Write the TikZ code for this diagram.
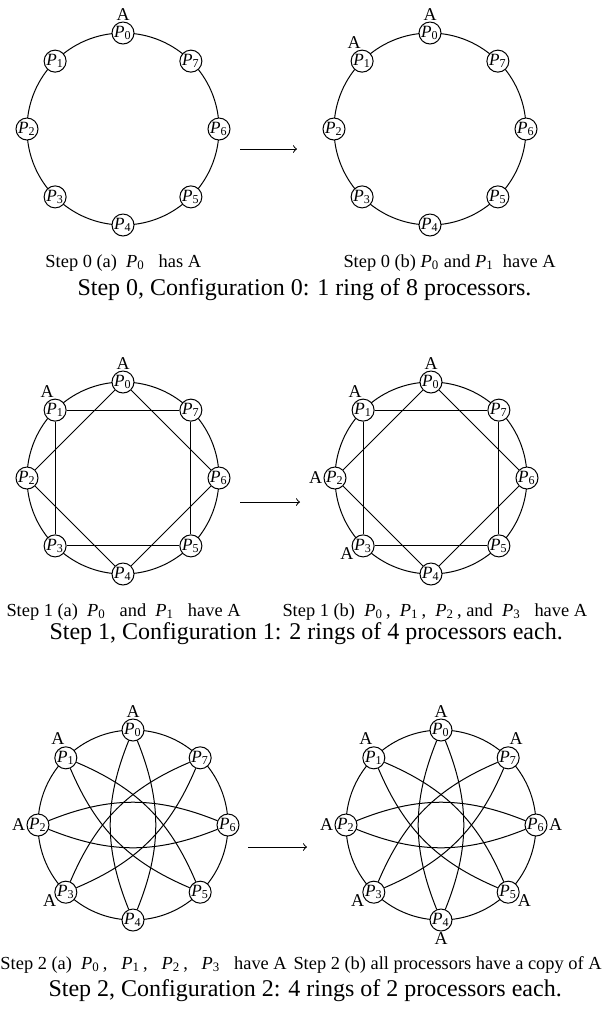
\documentclass[tikz,border=0pt]{standalone}
\usepackage{fontspec}
\setmainfont{Liberation Serif}
\usetikzlibrary{positioning}

\newcommand{\pp}[1]{\textit{P}\textsubscript{#1}}

\tikzset{
  proc/.style={draw, circle, fill=white, inner sep=-0.5pt, minimum size=11pt, font=\fontsize{8.6}{9}\selectfont},
  lbl/.style={inner sep=0.5pt, font=\fontsize{9}{10}\selectfont},
  subcap/.style={inner sep=0pt, anchor=west, font=\fontsize{9.2}{11}\selectfont},
  maincap/.style={inner sep=0pt, anchor=west, font=\fontsize{12}{14}\selectfont},
}

\begin{document}
\begin{tikzpicture}[x=0.5pt, y=-0.5pt, line width=0.5pt]
\useasboundingbox (0,0) rectangle (607,1009);

% six rings of eight processors
\foreach \grp/\cx/\cy/\r in {tl/123/129/96, tr/430/129/96, ml/123/478/96, mr/431/478/96, bl/133/825/95, br/441/825/95} {
  \begin{scope}[shift={(\cx,\cy)}]
    \draw (0,0) circle [radius=\r];
    \foreach \i in {0,...,7}
      \node[proc] (\grp\i) at ({270-45*\i}:\r) {\pp{\i}};
  \end{scope}
}

% configuration 1: two rings of four
\foreach \grp in {ml, mr}
  \foreach \a/\b in {1/7, 7/5, 5/3, 3/1, 0/6, 6/4, 4/2, 2/0}
    \draw (\grp\a) -- (\grp\b);

% configuration 2: four rings of two
\foreach \grp in {bl, br}
  \foreach \a/\b in {0/4, 1/5, 2/6, 3/7} {
    \draw (\grp\a) to[bend left=22] (\grp\b);
    \draw (\grp\a) to[bend right=22] (\grp\b);
  }

% arrows between steps
\coordinate (arr0s) at (240,149); \coordinate (arr0e) at (297,149);
\coordinate (arr1s) at (240,502); \coordinate (arr1e) at (300,502);
\coordinate (arr2s) at (248,847); \coordinate (arr2e) at (307,847);
\draw[->] (arr0s) -- (arr0e);
\draw[->] (arr1s) -- (arr1e);
\draw[->] (arr2s) -- (arr2e);

% copies of A
\node[lbl, above=0pt of tl0] (tlA0) {A};
\node[lbl, above=0pt of tr0] (trA0) {A};
\node[lbl, anchor=south east] (trA1) at (tr1.north) {A};
\node[lbl, above=0pt of ml0] (mlA0) {A};
\node[lbl, anchor=south east] (mlA1) at (ml1.north) {A};
\node[lbl, above=0pt of mr0] (mrA0) {A};
\node[lbl, anchor=south east] (mrA1) at (mr1.north) {A};
\node[lbl, left=0pt of mr2] (mrA2) {A};
\node[lbl, anchor=east] (mrA3) at (mr3.south west) {A};
\node[lbl, above=0pt of bl0] (blA0) {A};
\node[lbl, anchor=south east] (blA1) at (bl1.north) {A};
\node[lbl, left=0pt of bl2] (blA2) {A};
\node[lbl, anchor=east] (blA3) at (bl3.south west) {A};
\node[lbl, above=0pt of br0] (brA0) {A};
\node[lbl, anchor=south east] (brA1) at (br1.north) {A};
\node[lbl, left=0pt of br2] (brA2) {A};
\node[lbl, anchor=east] (brA3) at (br3.south west) {A};
\node[lbl, below=0pt of br4] (brA4) {A};
\node[lbl, anchor=west] (brA5) at (br5.south east) {A};
\node[lbl, right=0pt of br6] (brA6) {A};
\node[lbl, anchor=south west] (brA7) at (br7.north) {A};

% captions
\node[subcap] (cap0a) at (45,263) {Step 0 (a) \ \pp{0} \ \ has A};
\node[subcap] (cap0b) at (343,263) {Step 0 (b) \pp{0} and \pp{1} \ have A};
\node[maincap] (cap0) at (77,290) {Step 0, Configuration 0: 1 ring of 8 processors.};
\node[subcap] (cap1a) at (6,612) {Step 1 (a) \ \pp{0} \ \ and \ \pp{1} \ \ have A};
\node[subcap] (cap1b) at (282,612) {Step 1 (b) \ \pp{0}\,, \ \pp{1}\,, \ \pp{2}\,, and \ \pp{3} \ \ have A};
\node[maincap] (cap1) at (49,634) {Step 1, Configuration 1: 2 rings of 4 processors each.};
\node[subcap] (cap2a) at (0,965) {Step 2 (a) \ \pp{0}\,, \ \ \pp{1}\,, \ \ \pp{2}\,, \ \ \pp{3} \ \ have A};
\node[subcap] (cap2b) at (293,965) {Step 2 (b) all processors have a copy of A};
\node[maincap] (cap2) at (48,991) {Step 2, Configuration 2: 4 rings of 2 processors each.};
\end{tikzpicture}
\end{document}
